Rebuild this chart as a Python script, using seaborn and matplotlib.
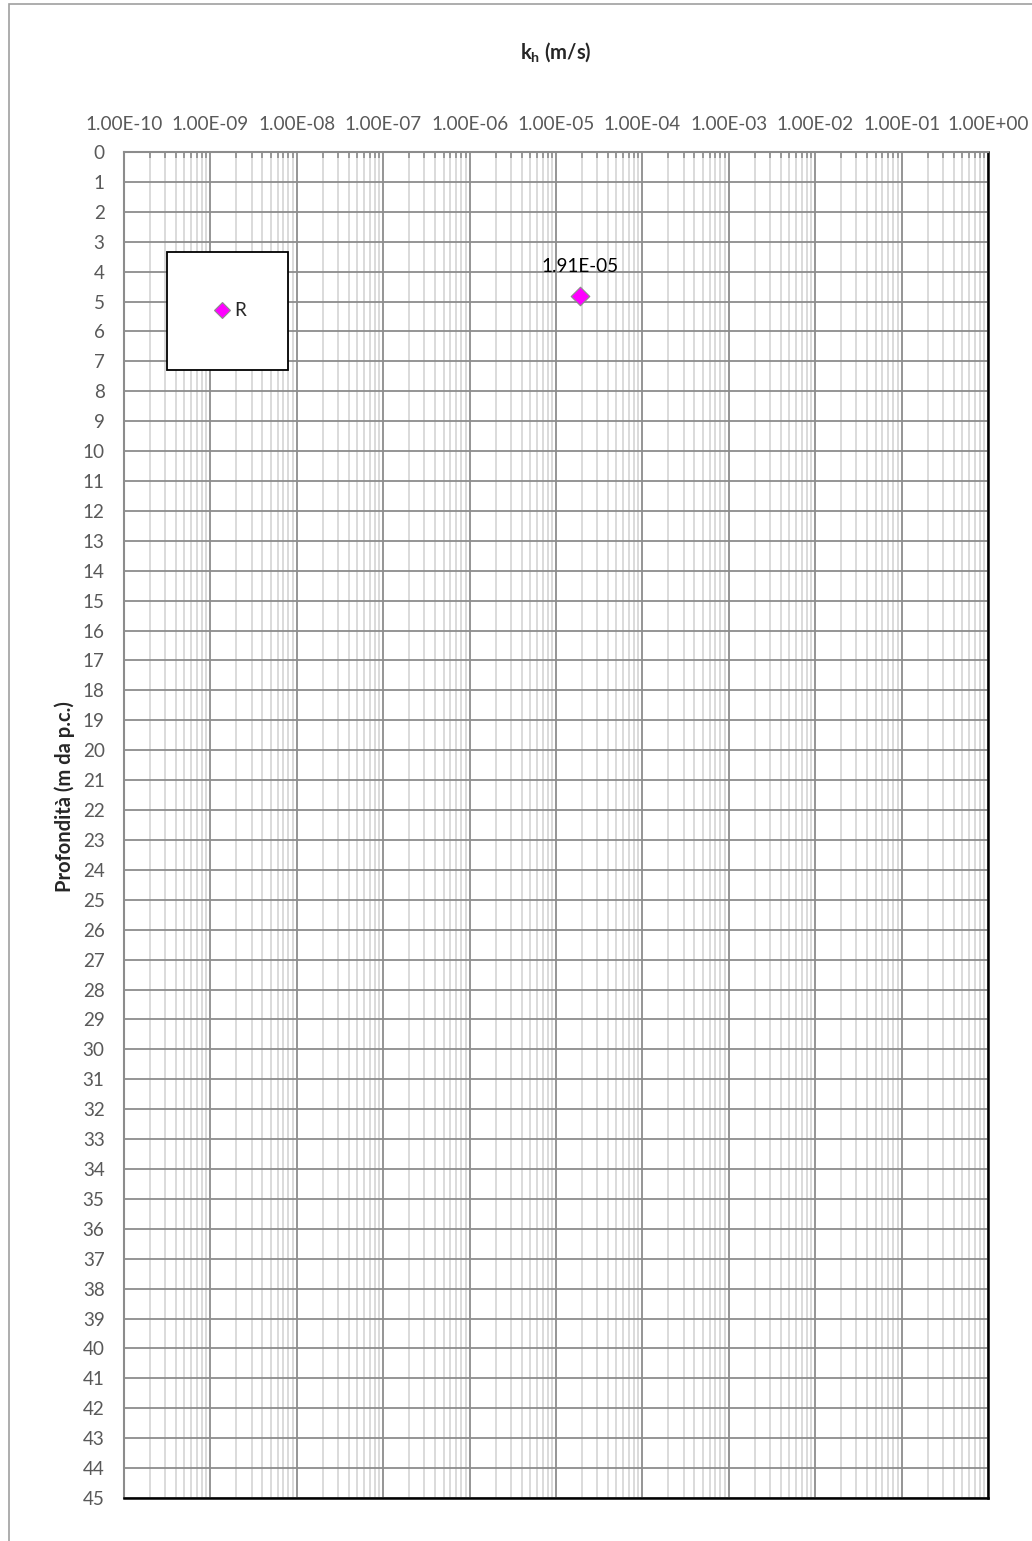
import numpy as np
import pandas as pd
import matplotlib
matplotlib.use("Agg")
import matplotlib.pyplot as plt
import seaborn as sns
from matplotlib.ticker import LogLocator, FixedLocator, FuncFormatter, NullFormatter
from matplotlib.patches import Rectangle
from matplotlib.lines import Line2D

# ---- data ----
series_name = ["R"]
kh_values = [1.91e-5]
depth_values = [4.8]
point_labels = ["1.91E-05"]
x_ticks = [1e-10, 1e-9, 1e-8, 1e-7, 1e-6, 1e-5, 1e-4, 1e-3, 1e-2, 1e-1, 1e0]
y_ticks = list(range(0, 46))

sns.set_theme(style="white")
plt.rcParams['font.family'] = ['Lato', 'DejaVu Sans']
plt.rcParams['mathtext.default'] = 'regular'

W, H = 1032, 1541
fig = plt.figure(figsize=(W / 100, H / 100), dpi=100)
L, R, T, B = 124, 988, 152, 1498
ax = fig.add_axes([L / W, 1 - B / H, (R - L) / W, (B - T) / H])

df = pd.DataFrame({"kh": kh_values, "depth": depth_values, "serie": series_name})
sns.scatterplot(data=df, x="kh", y="depth", ax=ax, marker="D", s=90,
                color="#FF00FF", edgecolor="#8c8c8c", linewidth=0.8, zorder=5,
                legend=False)

ax.set_xscale("log")
ax.set_xlim(x_ticks[0], x_ticks[-1])
ax.set_ylim(45, 0)

ax.xaxis.set_major_locator(FixedLocator(x_ticks))
ax.xaxis.set_minor_locator(LogLocator(base=10, subs=np.arange(2, 10), numticks=100))
ax.xaxis.set_minor_formatter(NullFormatter())
ax.xaxis.set_major_formatter(FuncFormatter(lambda v, p: "%.2E" % v))
ax.set_yticks(y_ticks)
ax.set_yticklabels([str(v) for v in y_ticks])

TICK_FS = 13.6
ax.xaxis.tick_top()
ax.tick_params(axis="x", which="major", top=True, bottom=False, length=0,
               pad=14, labelsize=TICK_FS, labelcolor="#595959")
ax.tick_params(axis="x", which="minor", top=True, bottom=False, direction="in",
               length=4, width=1.2, color="#8c8c8c")
ax.tick_params(axis="y", which="major", left=True, length=0, pad=14,
               labelsize=TICK_FS, labelcolor="#595959")

ax.grid(True, which="major", axis="both", color="#8c8c8c", linewidth=1.3)
ax.grid(True, which="minor", axis="x", color="#d4d4d4", linewidth=1.2)
ax.set_axisbelow(True)

for s in ["top", "left"]:
    ax.spines[s].set_color("#8c8c8c")
    ax.spines[s].set_linewidth(1.5)
for s in ["bottom", "right"]:
    ax.spines[s].set_color("black")
    ax.spines[s].set_linewidth(1.8)

ax.set_xlabel("")
ax.set_ylabel("")

# data label
for xv, yv, lab in zip(kh_values, depth_values, point_labels):
    ax.annotate(lab, (xv, yv), xytext=(0, 21), textcoords="offset points",
                ha="center", va="center", fontsize=TICK_FS, color="black")

# legend box
bx0, bx1 = (167 - L) / (R - L), (288 - L) / (R - L)
by0, by1 = 1 - (370 - T) / (B - T), 1 - (252 - T) / (B - T)
ax.add_patch(Rectangle((bx0, by0), bx1 - bx0, by1 - by0, transform=ax.transAxes,
                       facecolor="white", edgecolor="black", linewidth=1.3, zorder=6))
handle = Line2D([], [], marker="D", linestyle="none", markersize=8,
                markerfacecolor="#FF00FF", markeredgecolor="#8c8c8c",
                markeredgewidth=0.8)
leg = ax.legend([handle], series_name, loc="center",
                bbox_to_anchor=((bx0 + bx1) / 2 + 3 / (R - L), (by0 + by1) / 2),
                frameon=False, fontsize=TICK_FS, handlelength=0.7, handletextpad=0.3,
                borderpad=0)
leg.set_zorder(7)

# titles
fig.text((L + R) / 2 / W, 1 - 52 / H, r"k$_{h}$ (m/s)", ha="center", va="center",
         fontsize=14.5, fontweight="bold")
fig.text(65 / W, 1 - 797 / H, "Profondità (m da p.c.)", rotation=90,
         ha="center", va="center", fontsize=14.5, fontweight="bold")

# outer frame
fig.patches.append(Rectangle((9 / W, -0.01), 1.1, 1 - 4 / H + 0.01,
                             transform=fig.transFigure, fill=False,
                             edgecolor="#a0a0a0", linewidth=1.2))

fig.savefig("out.png", dpi=100)
